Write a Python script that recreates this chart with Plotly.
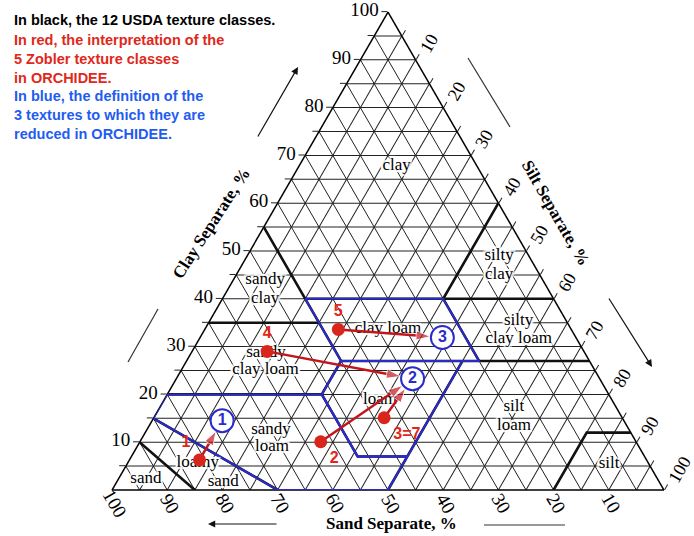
import math
import plotly.graph_objects as go

# Soil texture triangle. Ternary convention: a = clay, b = sand, c = silt (percent).
# Every point below is written as (sand, silt, clay).

# Grid every 5 %, labels every 10 %
grid_vals = list(range(5, 101, 5))
grid_text = [str(v) if v % 10 == 0 else "" for v in grid_vals]
sand_ticks = list(range(10, 101, 10))

# Internal boundaries of the 12 USDA texture classes
usda_boundaries = [
    [(85, 15, 0), (90, 0, 10)],
    [(70, 30, 0), (85, 0, 15)],
    [(80, 0, 20), (52, 28, 20), (52, 41, 7), (43, 50, 7)],
    [(50, 50, 0), (23, 50, 27)],
    [(52, 28, 20), (45, 28, 27), (45, 0, 55)],
    [(45, 28, 27), (0, 73, 27)],
    [(65, 0, 35), (45, 20, 35)],
    [(45, 15, 40), (0, 60, 40)],
    [(20, 53, 27), (20, 40, 40), (0, 40, 60)],
    [(20, 80, 0), (8, 80, 12), (0, 88, 12)],
]

# USDA class names (one text line per entry)
class_text = ["clay", "silty", "clay", "sandy", "clay", "silty", "clay loam",
              "clay loam", "sandy", "clay loam", "loam", "silt", "loam",
              "sandy", "loam", "loamy", "sand", "sand", "silt"]
class_sand = [14.5, 5.4, 7.4, 50.3, 52.2, 8.6, 10.5, 33.1, 57.7, 59.6, 42.0,
              18.5, 20.4, 64.9, 66.5, 81.6, 79.0, 92.7, 7.2]
class_silt = [17.6, 45.7, 47.7, 5.8, 7.7, 55.9, 57.9, 33.1, 13.5, 15.2, 39.1,
              64.1, 66.0, 22.5, 24.5, 12.7, 19.3, 5.0, 87.4]
class_clay = [67.9, 49.0, 45.0, 43.9, 40.1, 35.5, 31.6, 33.8, 28.8, 25.2, 18.9,
              17.4, 13.5, 12.6, 9.0, 5.7, 1.7, 2.3, 5.5]

# The 3 ORCHIDEE textures (sandy loam, loam, clay loam)
orchidee_coarse = [(85, 0, 15), (80, 0, 20), (52, 28, 20), (52, 41, 7), (43, 50, 7),
                   (50, 50, 0), (70, 30, 0), (85, 0, 15)]
orchidee_medium = [(52, 28, 20), (45, 28, 27), (23, 50, 27), (43, 50, 7),
                   (52, 41, 7), (52, 28, 20)]
orchidee_fine = [(45, 15, 40), (20, 40, 40), (20, 53, 27), (45, 28, 27), (45, 15, 40)]

# Reference points of the 3 ORCHIDEE textures
target_labels = ["1", "2", "3"]
target_sand = [72.8, 33.9, 24.2]
target_silt = [12.7, 42.8, 43.9]
target_clay = [14.5, 23.3, 31.9]

# The 5 Zobler texture classes as interpreted in ORCHIDEE
zobler_labels = ["1", "2", "3=7", "4", "5"]
zobler_sand = [81.0, 57.2, 43.1, 57.4, 42.2]
zobler_silt = [12.7, 32.8, 41.7, 13.6, 24.2]
zobler_clay = [6.3, 10.1, 15.1, 29.0, 33.6]
# Zobler class index -> ORCHIDEE texture index
zobler_to_target = [0, 1, 1, 1, 2]

BLACK = "#111111"
BLUE = "#2b2bcc"
RED_DOT = "#d9261c"
RED_ARROW = "#c2161c"

# Page and triangle placement (pixels)
W, H = 694.0, 536.0
APEX_Y, BASE_Y, CENTER_X = 12.0, 490.0, 388.0
TRI_H = BASE_Y - APEX_Y
TRI_W = TRI_H * 2 / math.sqrt(3)
TRI_LEFT = CENTER_X - TRI_W / 2


def px(x, y):
    return x / W, 1 - y / H


fig = go.Figure()

# USDA boundaries
for seg in usda_boundaries:
    fig.add_trace(go.Scatterternary(
        b=[p[0] for p in seg], c=[p[1] for p in seg], a=[p[2] for p in seg],
        mode="lines", line=dict(color=BLACK, width=2.6),
        hoverinfo="skip", showlegend=False))

# ORCHIDEE texture outlines
for poly in (orchidee_coarse, orchidee_medium, orchidee_fine):
    fig.add_trace(go.Scatterternary(
        b=[p[0] for p in poly], c=[p[1] for p in poly], a=[p[2] for p in poly],
        mode="lines", line=dict(color=BLUE, width=2),
        hoverinfo="skip", showlegend=False))

halo = ("2px 0 1px #fff, -2px 0 1px #fff, 0 2px 1px #fff, 0 -2px 1px #fff, "
        "2px 2px 1px #fff, -2px -2px 1px #fff, 2px -2px 1px #fff, -2px 2px 1px #fff")

# Class names
fig.add_trace(go.Scatterternary(
    b=class_sand, c=class_silt, a=class_clay, text=class_text,
    mode="text", textposition="middle center",
    textfont=dict(family="Liberation Serif", size=17, color="black", shadow=halo),
    cliponaxis=False, hoverinfo="skip", showlegend=False))

# Arrows from the Zobler classes to the ORCHIDEE textures
for i, t in enumerate(zobler_to_target):
    fig.add_trace(go.Scatterternary(
        b=[zobler_sand[i], target_sand[t]],
        c=[zobler_silt[i], target_silt[t]],
        a=[zobler_clay[i], target_clay[t]],
        mode="lines+markers",
        line=dict(color=RED_ARROW, width=2.5),
        marker=dict(symbol="arrow", size=[0, 15], color=RED_ARROW,
                    angleref="previous", standoff=12),
        cliponaxis=False, hoverinfo="skip", showlegend=False))

# Zobler points
fig.add_trace(go.Scatterternary(
    b=zobler_sand, c=zobler_silt, a=zobler_clay, text=zobler_labels,
    mode="markers+text",
    textposition=["top left", "bottom right", "bottom right", "top center", "top center"],
    textfont=dict(family="Liberation Sans", size=16, color="#e2261a", weight="bold"),
    marker=dict(size=13, color=RED_DOT),
    cliponaxis=False, hoverinfo="skip", showlegend=False))

# ORCHIDEE texture markers
fig.add_trace(go.Scatterternary(
    b=target_sand, c=target_silt, a=target_clay, text=target_labels,
    mode="markers+text", textposition="middle center",
    textfont=dict(family="Liberation Sans", size=16, color=BLUE, weight="bold"),
    marker=dict(size=23, color="white", line=dict(color=BLUE, width=2)),
    cliponaxis=False, hoverinfo="skip", showlegend=False))

tick_font = dict(family="Liberation Serif", size=19, color="black")
axis_common = dict(
    title=dict(text=""), min=0,
    tickmode="array", tickvals=grid_vals, ticktext=grid_text,
    tickfont=tick_font,
    showgrid=True, gridcolor="#222222", gridwidth=1,
    showline=True, linecolor="black", linewidth=1.5,
    ticks="outside", ticklen=6, tickcolor="#222222",
    layer="below traces",
)

half_x = 0.43
fig.update_layout(
    width=W, height=H,
    margin=dict(l=0, r=0, t=0, b=0),
    paper_bgcolor="white",
    ternary=dict(
        sum=100,
        domain=dict(x=[CENTER_X / W - half_x, CENTER_X / W + half_x],
                    y=[(H - BASE_Y) / H, (H - APEX_Y) / H]),
        bgcolor="white",
        aaxis=dict(axis_common, tickangle=0),
        baxis=dict(axis_common, ticks="", showticklabels=False),
        caxis=dict(axis_common, tickangle=-60, tickfont=dict(tick_font, size=18)),
    ),
)

# Sand tick labels, set along the prolongation of the constant-sand lines
for v in sand_ticks:
    vx = TRI_LEFT + TRI_W * (100 - v) / 100
    x0, y0 = px(vx + 3, BASE_Y + 13)
    fig.add_annotation(x=x0, y=y0, xref="paper", yref="paper", text=str(v),
                       textangle=60, showarrow=False, font=tick_font,
                       xanchor="center", yanchor="middle")

# Explanatory text, top left
notes = [
    ("In black, the 12 USDA texture classes.", "#000000", 20),
    ("In red, the interpretation of the", "#e0281a", 40),
    ("5 Zobler texture classes", "#e0281a", 59),
    ("in ORCHIDEE.", "#e0281a", 77.5),
    ("In blue, the definition of the", "#1f5cf0", 96),
    ("3 textures to which they are", "#1f5cf0", 114.5),
    ("reduced in ORCHIDEE.", "#1f5cf0", 134),
]
for txt, col, yy in notes:
    x0, y0 = px(12, yy)
    fig.add_annotation(x=x0, y=y0, xref="paper", yref="paper", text=txt,
                       showarrow=False, xanchor="left", yanchor="middle",
                       font=dict(family="Liberation Sans", size=14.5, color=col, weight="bold"))

# Axis titles
title_font = dict(family="Liberation Serif", size=17, color="black", weight="bold")
for txt, (cx, cy), ang in [("Clay Separate, %", (211, 223), -57),
                           ("Silt Separate, %", (555, 213), 60),
                           ("Sand Separate, %", (391, 523), 0)]:
    x0, y0 = px(cx, cy)
    fig.add_annotation(x=x0, y=y0, xref="paper", yref="paper", text=txt,
                       textangle=ang, showarrow=False, font=title_font,
                       xanchor="center", yanchor="middle")

# Direction arrows beside the axis titles
for (tx, ty), (sx, sy) in [((298, 67), (257, 138)),
                           ((652, 367), (608, 297)),
                           ((208, 524), (278, 524))]:
    x0, y0 = px(tx, ty)
    fig.add_annotation(x=x0, y=y0, xref="paper", yref="paper", text="",
                       showarrow=True, ax=sx - tx, ay=sy - ty,
                       arrowhead=2, arrowsize=1.2, arrowwidth=1.2, arrowcolor="#111111")

for (x1, y1), (x2, y2) in [((158, 309), (128, 362)),
                           ((510, 127), (468, 58)),
                           ((484, 525), (565, 525))]:
    a1, b1 = px(x1, y1)
    a2, b2 = px(x2, y2)
    fig.add_shape(type="line", xref="paper", yref="paper", x0=a1, y0=b1, x1=a2, y1=b2,
                  line=dict(color="#333333", width=1.2))

fig.write_html("out.html")
